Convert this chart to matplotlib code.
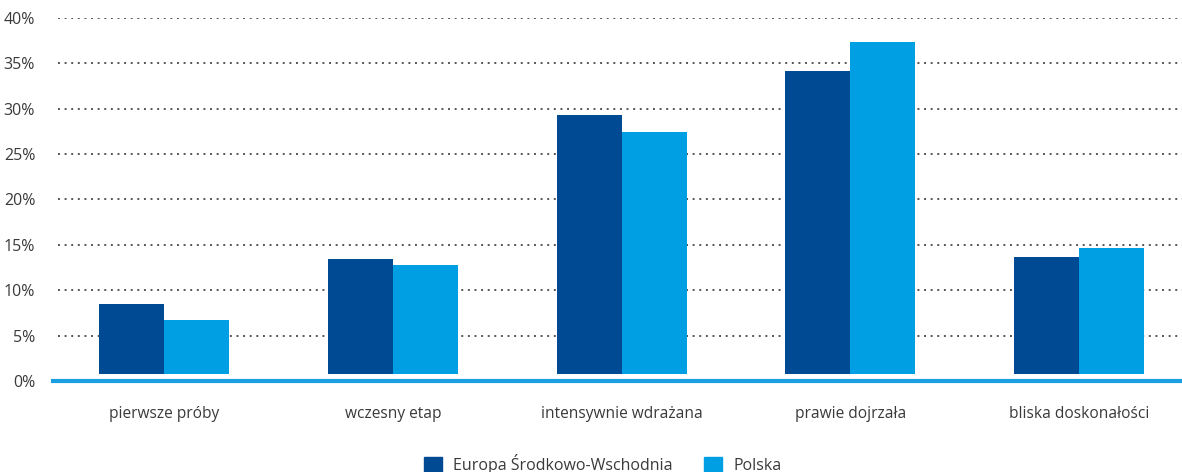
import numpy as np
import matplotlib
matplotlib.use("Agg")
import matplotlib.pyplot as plt
from matplotlib.patches import Patch

categories = ["pierwsze próby", "wczesny etap", "intensywnie wdrażana",
              "prawie dojrzała", "bliska doskonałości"]
esw    = [8.5, 13.4, 29.3, 34.2, 13.7]
polska = [6.7, 12.8, 27.4, 37.4, 14.6]
series_names = ["Europa Środkowo-Wschodnia", "Polska"]
yticks = [0, 5, 10, 15, 20, 25, 30, 35, 40]

DARK  = "#004a93"
LIGHT = "#009fe3"
TEXT  = "#3a3a3a"
BASE  = 0.75   # bars float slightly above the axis line in the original

plt.rcParams["font.family"] = ["Open Sans", "DejaVu Sans"]

fig = plt.figure(figsize=(11.82, 4.72), dpi=100)
ax = fig.add_axes([0.045, 0.193, 0.955, 0.769])

x = np.arange(len(categories))
w = 0.284
ax.bar(x - w/2, np.array(esw) - BASE, w, bottom=BASE, color=DARK, zorder=3)
ax.bar(x + w/2, np.array(polska) - BASE, w, bottom=BASE, color=LIGHT, zorder=3)

ax.set_xlim(-0.485, 4.45)
ax.set_ylim(0, 40)
ax.set_yticks(yticks)
ax.set_yticklabels([f"{t}%" for t in yticks], fontsize=11.5, color=TEXT)
ax.set_xticks(x)
ax.set_xticklabels(categories, fontsize=11.2, color=TEXT)
ax.tick_params(axis="both", length=0)
ax.tick_params(axis="x", pad=18)
ax.tick_params(axis="y", pad=13)

for t in yticks[1:]:
    ax.axhline(t, xmin=0.004, color="#555555", lw=1.4, ls=(0, (1, 2.4)), zorder=1)
ax.axhline(0, color="#1a9fe0", lw=3, zorder=4, clip_on=False)

for s in ax.spines.values():
    s.set_visible(False)

handles = [Patch(color=DARK), Patch(color=LIGHT)]
fig.legend(handles, series_names, loc="lower center", ncol=2,
           bbox_to_anchor=(0.51, -0.035), frameon=False, fontsize=11.5,
           handlelength=1.1, handleheight=1.1, columnspacing=2.0,
           handletextpad=0.7, labelcolor=TEXT)

fig.savefig("out.png", dpi=100)
